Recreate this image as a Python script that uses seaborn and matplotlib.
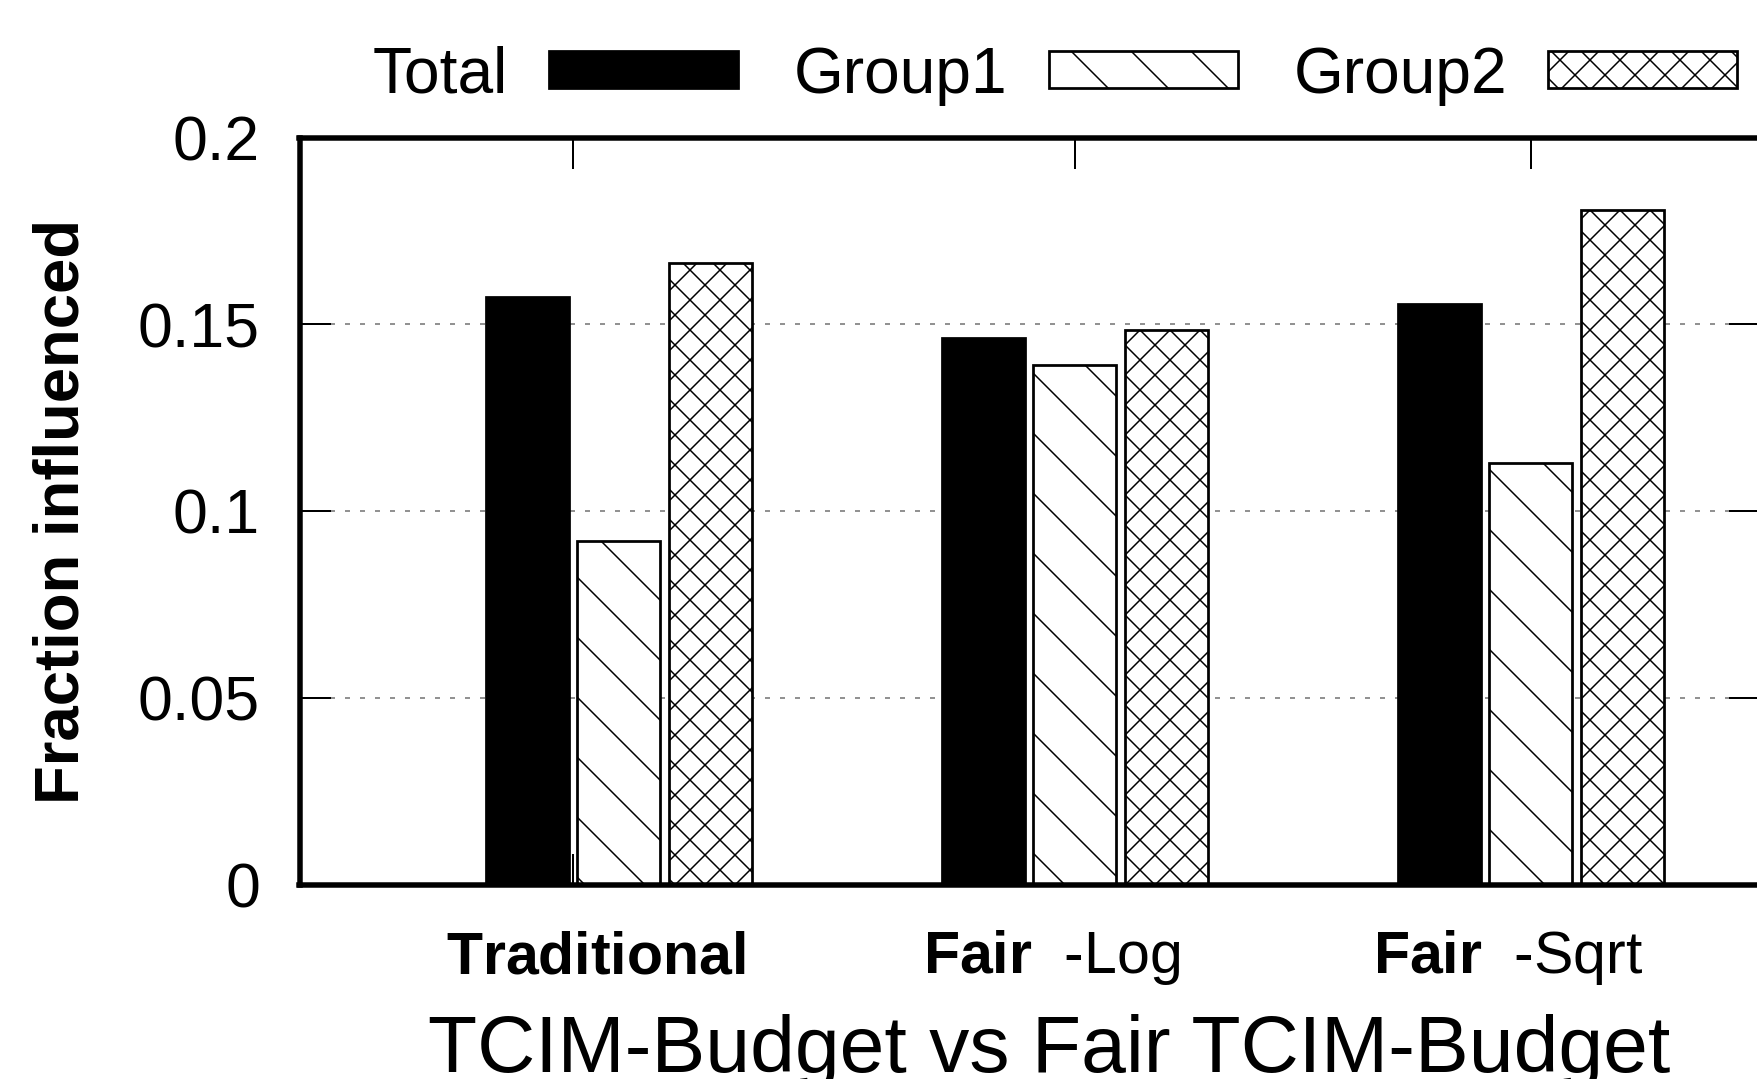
import matplotlib
matplotlib.use("Agg")
import matplotlib.pyplot as plt
import matplotlib.transforms as mtransforms
import pandas as pd
import seaborn as sns

# ---- data -------------------------------------------------------------
methods = ["Traditional", "Fair  -Log", "Fair  -Sqrt"]
method_bold = ["Traditional", "Fair", "Fair"]
method_rest = ["", "  -Log", "  -Sqrt"]
series = ["Total", "Group1", "Group2"]
total = [0.1572, 0.1464, 0.1553]
group1 = [0.0921, 0.1390, 0.1129]
group2 = [0.1663, 0.1484, 0.1806]
yticks = [0, 0.05, 0.1, 0.15, 0.2]
ytick_labels = ["0", "0.05", "0.1", "0.15", "0.2"]
xtick_marks = [-0.1, 1, 2]
xlabel = "TCIM-Budget vs Fair TCIM-Budget"
ylabel = "Fraction influenced"

df = pd.DataFrame({
    "method": methods * 3,
    "series": [s for s in series for _ in methods],
    "value": total + group1 + group2,
})

# ---- style ------------------------------------------------------------
sns.set_theme(style="white")
plt.rcParams["font.family"] = ["Liberation Sans", "DejaVu Sans"]
plt.rcParams["text.color"] = "black"
plt.rcParams["axes.labelcolor"] = "black"
plt.rcParams["xtick.color"] = "black"
plt.rcParams["ytick.color"] = "black"
plt.rcParams["mathtext.fontset"] = "custom"
plt.rcParams["mathtext.rm"] = "Liberation Sans"
plt.rcParams["mathtext.bf"] = "Liberation Sans:bold"
plt.rcParams["mathtext.it"] = "Liberation Sans:italic"
plt.rcParams["hatch.linewidth"] = 0.3
plt.rcParams["hatch.color"] = "black"
plt.rcParams["lines.scale_dashes"] = False

DPI = 360
W, H = 1757, 1079
fig = plt.figure(figsize=(W / DPI, H / DPI), dpi=DPI)
fig.patch.set_facecolor("white")
ax = fig.add_axes([299.5 / W, 194.5 / H, 1460.5 / W, 747 / H])

sns.barplot(
    data=df, x="method", y="value", hue="series",
    order=methods, hue_order=series,
    palette={"Total": "black", "Group1": "white", "Group2": "white"},
    width=0.602, gap=0.093, saturation=1, errorbar=None,
    edgecolor="black", linewidth=0.55, legend=False, ax=ax,
)

# hatch patterns per series
for cont, hatch in zip(ax.containers, ["", "\\\\", "xxxx"]):
    for bar in cont:
        bar.set_hatch(hatch)

ax.set_xlim(-0.6996, 2.503)
ax.set_ylim(0, 0.2)
ax.set_xlabel("")
ax.set_ylabel("")

# axes frame
for sp in ax.spines.values():
    sp.set_visible(True)
    sp.set_color("black")
    sp.set_linewidth(1.1)

ax.set_axisbelow(True)
ax.yaxis.grid(True, color="#6e6e6e", linewidth=0.3, linestyle=(0, (1, 2)))
ax.xaxis.grid(False)

ax.set_yticks(yticks, ytick_labels)
ax.tick_params(axis="y", direction="in", length=6.2, width=0.4,
               left=True, right=True, labelsize=12.5, pad=7.9, colors="black")
ax.set_xticks(xtick_marks, [""] * len(xtick_marks))
ax.tick_params(axis="x", direction="in", length=6.2, width=0.4,
               bottom=True, top=True, colors="black")

# category labels: first word bold, suffix regular
trans = mtransforms.blended_transform_factory(ax.transData, ax.transAxes)
for i, (b, r) in enumerate(zip(method_bold, method_rest)):
    ax.text(i - 0.05, -0.119, rf"$\mathbf{{{b}}}${r}", transform=trans,
            ha="center", va="baseline", fontsize=11.8, color="black")

fig.text(62 / W, 1 - 511.5 / H, ylabel, rotation=90, ha="center",
         va="center", fontsize=12.7, fontweight="bold", color="black")
fig.text(1049.5 / W, 7 / H, xlabel, ha="center", va="baseline",
         fontsize=16.1, color="black")

ax.legend(
    ax.containers, series, loc="center",
    bbox_to_anchor=(1055 / W, 1 - 75.5 / H), bbox_transform=fig.transFigure,
    ncol=3, frameon=False, markerfirst=False,
    handlelength=2.95, handleheight=0.52, handletextpad=0.64,
    columnspacing=0.875, borderpad=0, borderaxespad=0, fontsize=12.8,
    labelcolor="black",
)

fig.savefig("out.png", dpi=DPI)
